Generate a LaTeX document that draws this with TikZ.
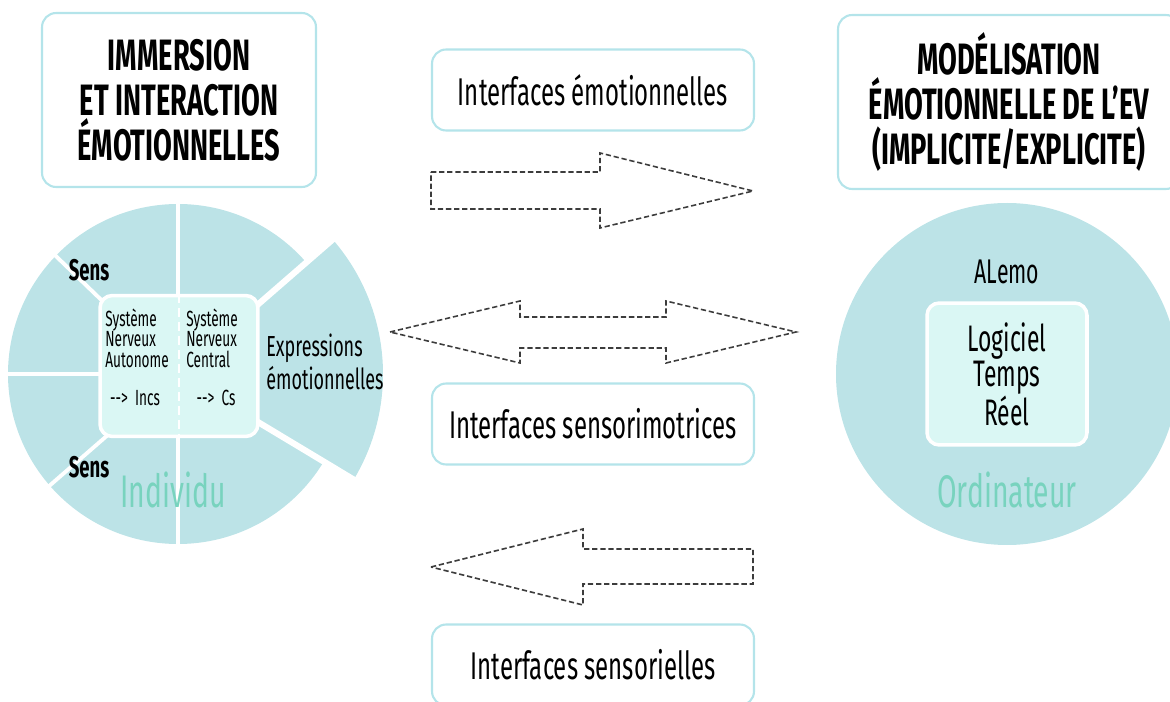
\documentclass[tikz,border=0pt]{standalone}
\usepackage{fontspec}
\setmainfont{Fira Sans}[FakeStretch=0.62]
\usetikzlibrary{positioning,calc}
\definecolor{disc}{HTML}{BCE3E7}
\definecolor{core}{HTML}{DAF7F4}
\definecolor{rim}{HTML}{B4E4EA}
\definecolor{mint}{HTML}{78D3BE}
\definecolor{dashgray}{HTML}{3C3C3C}

\begin{document}
\begin{tikzpicture}
  [
      x=0.02cm, y=-0.02cm,
      titlebox/.style={draw=rim, line width=1.2pt, rounded corners=8pt, fill=white, align=center,
        minimum width=#1, minimum height=3.48cm, font=\bfseries\fontsize{25}{25.5}\selectfont},
      ifacebox/.style={draw=rim, line width=1.2pt, rounded corners=8pt, fill=white,
        minimum width=6.44cm, minimum height=1.62cm, font=\fontsize{22}{24}\selectfont},
      innerbox/.style={draw=white, line width=2pt, rounded corners=7pt, fill=core, inner sep=0pt},
      small/.style={align=left, inner sep=0pt, font=\fontsize{12.5}{11.4}\selectfont},
      sens/.style={inner sep=0pt, font=\bfseries\fontsize{17}{17}\selectfont},
      who/.style={text=mint, inner sep=0pt, font=\fontsize{26}{26}\selectfont},
      cut/.style={draw=white, line width=2.2pt},
      bigarrow/.style={draw=dashgray, line width=0.9pt, dash pattern=on 3pt off 1.6pt},
    ]
    \useasboundingbox (0,0) rectangle (1170,702);

    % titles and interfaces
    \node (immersion) [titlebox=5.48cm] at (179,100) {IMMERSION\\ET INTERACTION\\ÉMOTIONNELLES};
    \node (modele) [titlebox=6.84cm] at (1009,102) {MODÉLISATION\\ÉMOTIONNELLE DE L’EV\\(IMPLICITE/EXPLICITE)};
    \node (emo) [ifacebox] at (593,90) {Interfaces émotionnelles};
    \node (motor) [ifacebox] at (593,424) {Interfaces sensorimotrices};
    \node (senso) [ifacebox] at (593,665) {Interfaces sensorielles};

    % individu
    \coordinate (ci) at (178,374);
    \fill [disc] (ci) circle [radius=170];
    \fill [disc] (ci) -- ++(-41:205) arc [start angle=-41, end angle=31, radius=205] -- cycle;
    \draw [cut] (178,200) -- (178,548);
    \draw [cut] (ci) -- (4,374);
    \foreach \a in {-136,139}
      \draw [cut] (ci) -- ++(\a:176);
    \foreach \a in {-41,31}
      \draw [cut, line width=3.5pt] (ci) -- ++(\a:215);
    \node (sn) [innerbox, minimum width=3.16cm, minimum height=2.82cm] at (179,366) {};
    \draw [white, line width=1.5pt, dash pattern=on 5pt off 3pt] (sn.north) -- (sn.south);
    \node (sna) [small, anchor=north west] at (105,309) {Système\\Nerveux\\Autonome};
    \node (snc) [small, anchor=north west] at (186,309) {Système\\Nerveux\\Central};
    \node (incs) [small] at (135,398) {-{}->\ \ Incs};
    \node (cs) [small] at (216,398) {-{}->\ \ Cs};
    \node (sens1) [sens] at (89,270) {Sens};
    \node (sens2) [sens] at (89,467) {Sens};
    \node (expr) [align=left, inner sep=0pt, font=\fontsize{16.5}{19}\selectfont, anchor=west]
      at (266,362) {Expressions\\émotionnelles};
    \node (indiv) [who] at (173,490) {Individu};

    % ordinateur
    \coordinate (co) at (1007,374);
    \fill [disc] (co) circle [radius=171];
    \node (soft) [innerbox, minimum width=3.2cm, minimum height=2.84cm, align=center,
      font=\fontsize{21}{18.4}\selectfont] at (co) {Logiciel\\Temps\\Réel};
    \node (alemo) [inner sep=0pt, font=\fontsize{19.5}{19.5}\selectfont] at (1007,272) {ALemo};
    \node (ordi) [who] at (1007,490) {Ordinateur};

    % dashed arrows
    \draw [bigarrow] (431,172) -- (600,172) -- (600,153) -- (753,191) -- (600,228)
      -- (600,209) -- (431,209) -- cycle;
    \draw [bigarrow] (390,332) -- (520,301) -- (520,317) -- (666,317) -- (666,301)
      -- (796,332) -- (666,363) -- (666,348) -- (520,348) -- (520,363) -- cycle;
    \draw [bigarrow] (431,567) -- (583,529) -- (583,549) -- (753,549) -- (753,584)
      -- (583,584) -- (583,605) -- cycle;
  \end{tikzpicture}
\end{document}
